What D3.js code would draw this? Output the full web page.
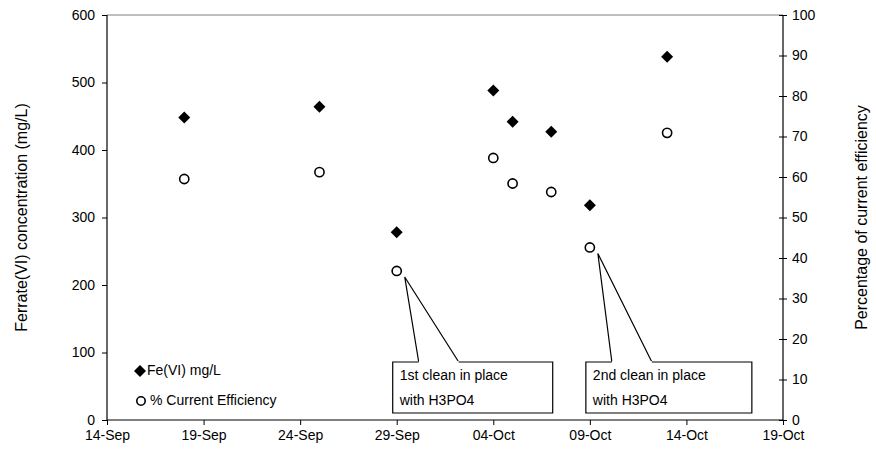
<!DOCTYPE html>
<html>
<head>
<meta charset="utf-8">
<script src="https://cdn.jsdelivr.net/npm/d3@7"></script>
<style>
  body { margin: 0; background: #fff; }
  text { font-family: Arial, "Liberation Sans", sans-serif; fill: #000; }
</style>
</head>
<body>
<svg id="chart" width="876" height="458"></svg>
<script>
"use strict";
// sample dates (2008) and measured values
const dates = ['2008-09-18', '2008-09-25', '2008-09-29', '2008-10-04', '2008-10-05', '2008-10-07', '2008-10-09', '2008-10-13'];
const ferrate = [448, 464, 278, 488, 442, 427, 318, 538];
const efficiency = [59.5, 61.2, 36.8, 64.7, 58.4, 56.3, 42.6, 70.9];
const xTicks = ['2008-09-14', '2008-09-19', '2008-09-24', '2008-09-29', '2008-10-04', '2008-10-09', '2008-10-14', '2008-10-19'];
const leftTicks = [0, 100, 200, 300, 400, 500, 600];
const rightTicks = [0, 10, 20, 30, 40, 50, 60, 70, 80, 90, 100];
const notes = [
  {at: 2, lines: ['1st clean in place', 'with H3PO4']},
  {at: 6, lines: ['2nd clean in place', 'with H3PO4']}
];

const parse = d3.timeParse('%Y-%m-%d');
const margin = {top: 15, right: 93, bottom: 38, left: 107};
const W = 876, H = 458;
const svg = d3.select('#chart');

const x = d3.scaleTime()
  .domain([parse(xTicks[0]), parse(xTicks[xTicks.length - 1])])
  .range([margin.left, W - margin.right]);
const yL = d3.scaleLinear().domain([0, 600]).range([H - margin.bottom, margin.top]);
const yR = d3.scaleLinear().domain([0, 100]).range([H - margin.bottom, margin.top]);

// plot top border
svg.append('line')
  .attr('x1', x.range()[0]).attr('x2', x.range()[1])
  .attr('y1', margin.top).attr('y2', margin.top)
  .attr('stroke', '#808080');

//axes
const fontPx = '14px';
const gx = svg.append('g')
  .attr('transform', `translate(0,${H - margin.bottom})`)
  .call(d3.axisBottom(x).tickValues(xTicks.map(parse)).tickFormat(d3.timeFormat('%d-%b')).tickSize(5).tickPadding(5));
const gl = svg.append('g')
  .attr('transform', `translate(${margin.left},0)`)
  .call(d3.axisLeft(yL).tickValues(leftTicks).tickSize(5).tickPadding(7));
const gr = svg.append('g')
  .attr('transform', `translate(${W - margin.right},0)`)
  .call(d3.axisRight(yR).tickValues(rightTicks).tickSize(4).tickPadding(5));
gr.selectAll('.tick line').attr('x1', -4);
[gx, gl, gr].forEach(g => {
  g.select('.domain').attr('stroke', '#000').attr('stroke-width', 1.2);
  g.selectAll('.tick line').attr('stroke', '#000');
  g.selectAll('text').style('font-size', fontPx).style('font-family', 'Arial, "Liberation Sans", sans-serif');
});
gx.selectAll('.domain').attr('d', `M${x.range()[0]},0H${x.range()[1]}`);
gl.selectAll('.domain').attr('d', `M0,${yL.range()[0]}V${yL.range()[1]}`);
gr.selectAll('.domain').attr('d', `M0,${yR.range()[0]}V${yR.range()[1]}`);

// axis titles
svg.append('text')
  .attr('transform', `translate(27,${(margin.top + H - margin.bottom) / 2}) rotate(-90)`)
  .attr('text-anchor', 'middle')
  .style('font-size', '16px')
  .text('Ferrate(VI) concentration (mg/L)');
svg.append('text')
  .attr('transform', `translate(867,${(margin.top + H - margin.bottom) / 2}) rotate(-90)`)
  .attr('text-anchor', 'middle')
  .style('font-size', '16px')
  .text('Percentage of current efficiency');

// callouts
notes.forEach(n => {
  const cx = x(parse(dates[n.at])), cy = yR(efficiency[n.at]);
  const boxX = cx - 4, boxY = 362, boxW = n.at === 2 ? 160 : 166, boxH = 51;
  svg.append('path')
    .attr('d', `M${boxX},${boxY}H${boxX + boxW}V${boxY + boxH}H${boxX}Z`)
    .attr('fill', '#fff').attr('stroke', '#000').attr('stroke-width', 1.2);
  svg.append('path')
    .attr('d', `M${boxX + 26},${boxY}L${cx + 8},${cy + 6}L${boxX + 66},${boxY}`)
    .attr('fill', 'none').attr('stroke', '#000').attr('stroke-width', 1.2);
  svg.append('path')
    .attr('d', `M${boxX + 26},${boxY}H${boxX + 66}`)
    .attr('stroke', '#fff').attr('stroke-width', 2);
  n.lines.forEach((t, i) => {
    svg.append('text')
      .attr('x', boxX + 7).attr('y', boxY + 18 + i * 25)
      .style('font-size', fontPx)
      .text(t);
  });
});

// markers: diamond = square turned 45 degrees
const dHalf = 6;
const diamond = `M0,${-dHalf}L${dHalf},0L0,${dHalf}L${-dHalf},0Z`;
svg.append('g').selectAll('path')
  .data(dates)
  .enter()
  .append('path')
  .attr('d', diamond)
  .attr('transform', (d, i) => `translate(${x(parse(d))},${yL(ferrate[i])})`)
  .attr('fill', '#000');
svg.append('g').selectAll('circle')
  .data(dates)
  .enter()
  .append('circle')
  .attr('cx', d => x(parse(d)))
  .attr('cy', (d, i) => yR(efficiency[i]))
  .attr('r', 4.6)
  .attr('fill', '#fff')
  .attr('stroke', '#000')
  .attr('stroke-width', 1.6);

// legend
const leg = svg.append('g').attr('transform', 'translate(140,0)');
leg.append('path').attr('d', diamond).attr('transform', 'translate(0,371)').attr('fill', '#000');
leg.append('text').attr('x', 7).attr('y', 375).style('font-size', fontPx).text('Fe(VI) mg/L');
leg.append('circle').attr('cx', 1).attr('cy', 401).attr('r', 4.2)
  .attr('fill', '#fff').attr('stroke', '#000').attr('stroke-width', 1.6);
leg.append('text').attr('x', 10).attr('y', 405).style('font-size', fontPx).text('% Current Efficiency');
</script>
</body>
</html>
